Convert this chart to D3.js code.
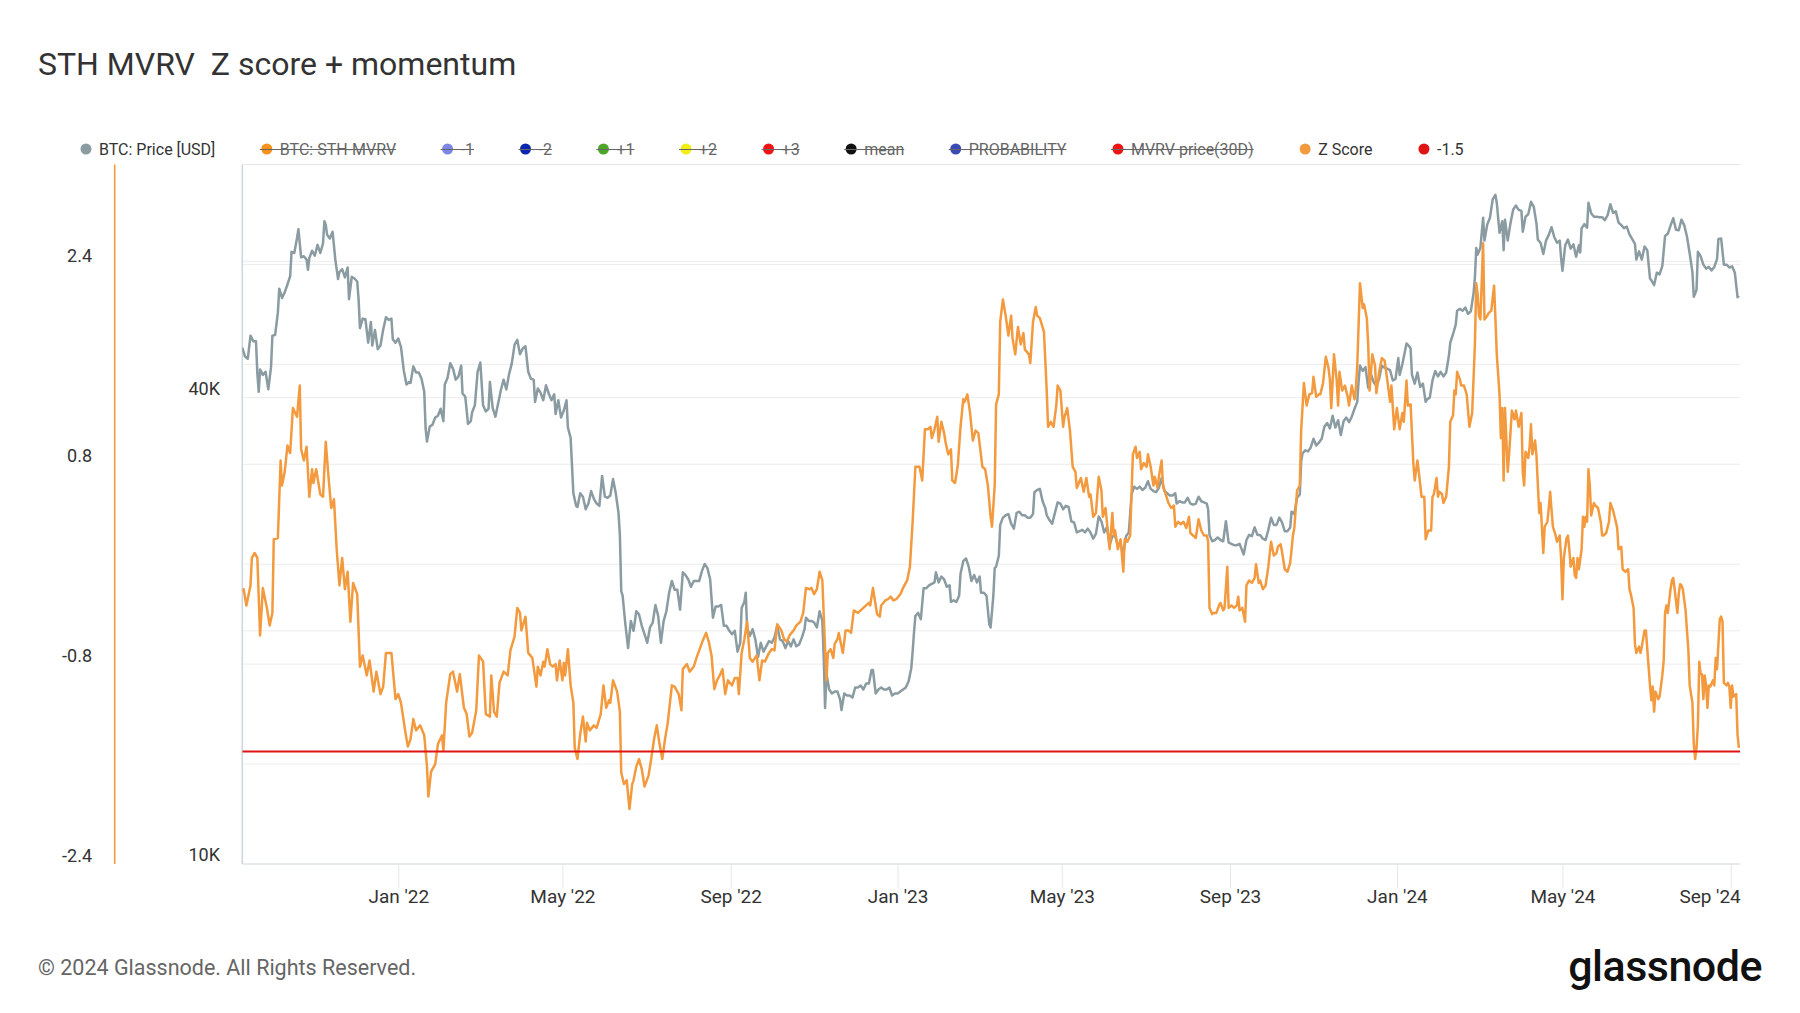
<!DOCTYPE html>
<html><head><meta charset="utf-8">
<script src="https://cdn.jsdelivr.net/npm/d3@7"></script>
<style>
html,body{margin:0;padding:0;background:#fff;}
svg{display:block;font-family:Roboto,"Noto Sans",sans-serif;}
</style></head><body>
<svg id="chart" width="1800" height="1013"></svg>
<script>
const chartTitle = "STH MVRV\u00a0 Z score + momentum";
const footerText = "\u00a9 2024 Glassnode. All Rights Reserved.";
const logoText = "glassnode";

const legendNames = ["BTC: Price [USD]","BTC: STH-MVRV","-1","-2","+1","+2","+3","mean","PROBABILITY","MVRV price(30D)","Z Score","-1.5"];
const legendColors = ["#8a9ba1","#f7931a","#7c86e6","#0b26b0","#4ca526","#f2ee12","#ee1414","#111111","#3949b5","#ee1414","#f39a3e","#e01414"];
const legendVisible = [true,false,false,false,false,false,false,false,false,false,true,true];

const xDomain = ["2021-09-09","2024-09-08"];
const xTickDates = ["2022-01-01","2022-05-01","2022-09-01","2023-01-01","2023-05-01","2023-09-01","2024-01-01","2024-05-01","2024-09-01"];
const xTickLabels = ["Jan '22","May '22","Sep '22","Jan '23","May '23","Sep '23","Jan '24","May '24","Sep '24"];

const zDomain = [-2.4, 3.2];
const zGridValues = [2.4, 1.6, 0.8, 0, -0.8, -1.6];
const zLabelValues = [2.4, 0.8, -0.8, -2.4];
const priceDomainK = [10, 80];
const priceGridValuesK = [20, 40, 60];
const priceLabelValuesK = [40, 10];
const priceLabelText = ["40K","10K"];
const thresholdValue = -1.5;

// BTC price, USD thousands
const priceK = [
["2021-09-09",46.4],["2021-09-11",45.2],["2021-09-13",44.9],["2021-09-15",48.1],["2021-09-17",47.3],["2021-09-19",47.3],["2021-09-20",43.0],["2021-09-21",40.7],["2021-09-22",43.5],["2021-09-24",42.8],["2021-09-26",43.2],["2021-09-28",41.0],["2021-09-30",43.8],
["2021-10-01",48.1],["2021-10-03",48.2],["2021-10-05",51.5],["2021-10-06",55.3],["2021-10-08",53.8],["2021-10-10",54.7],["2021-10-12",56.0],["2021-10-14",57.4],["2021-10-15",61.7],["2021-10-17",61.5],["2021-10-19",64.3],["2021-10-20",66.0],["2021-10-22",60.7],["2021-10-24",60.9],["2021-10-26",60.3],["2021-10-27",58.5],["2021-10-28",60.6],["2021-10-30",61.9],
["2021-11-01",61.0],["2021-11-03",63.0],["2021-11-05",61.5],["2021-11-07",63.3],["2021-11-08",67.6],["2021-11-09",66.9],["2021-11-10",64.9],["2021-11-12",64.2],["2021-11-14",65.5],["2021-11-16",60.3],["2021-11-18",56.9],["2021-11-19",58.1],["2021-11-21",58.6],["2021-11-23",57.2],["2021-11-25",58.9],["2021-11-26",53.6],["2021-11-28",57.3],["2021-11-30",57.0],
["2021-12-02",56.5],["2021-12-03",53.6],["2021-12-04",49.2],["2021-12-06",50.6],["2021-12-08",50.5],["2021-12-10",47.1],["2021-12-12",50.1],["2021-12-13",46.7],["2021-12-15",48.9],["2021-12-17",46.2],["2021-12-19",46.7],["2021-12-21",49.0],["2021-12-23",50.8],["2021-12-25",50.4],["2021-12-27",50.6],["2021-12-28",47.6],["2021-12-30",47.1],
["2022-01-01",47.7],["2022-01-03",46.5],["2022-01-05",43.4],["2022-01-07",41.6],["2022-01-09",41.9],["2022-01-10",41.8],["2022-01-12",43.9],["2022-01-14",43.1],["2022-01-16",43.1],["2022-01-18",42.3],["2022-01-20",40.7],["2022-01-21",36.5],["2022-01-22",35.1],["2022-01-24",36.7],["2022-01-26",36.9],["2022-01-28",37.7],["2022-01-30",37.9],
["2022-02-01",38.7],["2022-02-03",37.3],["2022-02-04",41.6],["2022-02-06",42.4],["2022-02-08",44.3],["2022-02-10",43.6],["2022-02-12",42.2],["2022-02-14",42.6],["2022-02-16",44.0],["2022-02-17",40.5],["2022-02-19",40.1],["2022-02-21",37.0],["2022-02-23",37.3],["2022-02-24",38.3],["2022-02-26",39.1],["2022-02-28",43.2],
["2022-03-02",44.4],["2022-03-04",39.1],["2022-03-06",38.4],["2022-03-08",38.7],["2022-03-09",41.9],["2022-03-11",38.8],["2022-03-13",37.8],["2022-03-15",39.3],["2022-03-17",40.9],["2022-03-19",42.2],["2022-03-21",41.0],["2022-03-23",42.9],["2022-03-25",44.3],["2022-03-27",46.8],["2022-03-29",47.5],["2022-03-31",45.5],
["2022-04-02",46.3],["2022-04-04",46.6],["2022-04-06",43.2],["2022-04-08",42.3],["2022-04-10",42.2],["2022-04-11",39.5],["2022-04-13",41.1],["2022-04-15",40.6],["2022-04-17",39.7],["2022-04-19",41.5],["2022-04-21",40.5],["2022-04-23",39.7],["2022-04-25",40.4],["2022-04-26",38.1],["2022-04-28",39.7],["2022-04-30",37.7],
["2022-05-02",38.5],["2022-05-04",39.7],["2022-05-05",36.6],["2022-05-07",35.5],["2022-05-09",30.1],["2022-05-11",29.0],["2022-05-12",28.9],["2022-05-14",30.1],["2022-05-16",29.8],["2022-05-18",28.7],["2022-05-20",29.2],["2022-05-22",30.3],["2022-05-24",29.6],["2022-05-26",29.2],["2022-05-28",29.0],["2022-05-30",31.7],
["2022-06-01",29.8],["2022-06-03",29.7],["2022-06-05",29.9],["2022-06-07",31.4],["2022-06-09",30.1],["2022-06-11",28.4],["2022-06-12",26.6],["2022-06-13",22.5],["2022-06-14",22.2],["2022-06-16",20.4],["2022-06-18",19.0],["2022-06-20",20.6],["2022-06-22",20.0],["2022-06-24",21.2],["2022-06-26",21.0],["2022-06-28",20.3],["2022-06-30",19.8],
["2022-07-02",19.3],["2022-07-04",20.2],["2022-07-06",20.5],["2022-07-08",21.6],["2022-07-10",20.9],["2022-07-12",19.3],["2022-07-14",20.6],["2022-07-16",21.2],["2022-07-18",22.4],["2022-07-20",23.2],["2022-07-22",22.6],["2022-07-24",22.6],["2022-07-26",21.3],["2022-07-28",23.8],["2022-07-30",23.6],
["2022-08-01",23.3],["2022-08-03",22.8],["2022-08-05",23.2],["2022-08-07",23.2],["2022-08-09",23.2],["2022-08-11",23.9],["2022-08-13",24.4],["2022-08-15",24.1],["2022-08-17",23.3],["2022-08-19",20.8],["2022-08-21",21.5],["2022-08-23",21.5],["2022-08-25",21.6],["2022-08-27",20.3],["2022-08-29",20.3],["2022-08-31",20.0],
["2022-09-02",19.8],["2022-09-04",20.0],["2022-09-06",18.8],["2022-09-08",19.3],["2022-09-09",21.4],["2022-09-11",21.8],["2022-09-12",22.4],["2022-09-13",20.2],["2022-09-15",19.7],["2022-09-17",20.1],["2022-09-19",19.5],["2022-09-21",18.5],["2022-09-23",19.3],["2022-09-25",18.8],["2022-09-27",19.1],["2022-09-29",19.4],
["2022-10-01",19.3],["2022-10-03",19.6],["2022-10-05",20.3],["2022-10-07",19.5],["2022-10-09",19.4],["2022-10-11",19.0],["2022-10-13",19.4],["2022-10-15",19.1],["2022-10-17",19.5],["2022-10-19",19.1],["2022-10-21",19.2],["2022-10-23",19.6],["2022-10-25",20.1],["2022-10-26",20.8],["2022-10-28",20.6],["2022-10-30",20.6],
["2022-11-01",20.5],["2022-11-03",20.2],["2022-11-05",21.2],["2022-11-07",20.6],["2022-11-08",18.5],["2022-11-09",15.9],["2022-11-10",17.6],["2022-11-12",16.8],["2022-11-14",16.6],["2022-11-16",16.7],["2022-11-18",16.7],["2022-11-20",16.3],["2022-11-21",15.8],["2022-11-23",16.6],["2022-11-25",16.5],["2022-11-27",16.5],["2022-11-29",16.4],
["2022-12-01",16.9],["2022-12-03",16.9],["2022-12-05",17.0],["2022-12-07",16.8],["2022-12-09",17.1],["2022-12-11",17.1],["2022-12-13",17.8],["2022-12-14",17.8],["2022-12-16",16.6],["2022-12-18",16.8],["2022-12-20",16.9],["2022-12-22",16.8],["2022-12-24",16.8],["2022-12-26",16.9],["2022-12-28",16.5],["2022-12-30",16.6],
["2023-01-01",16.6],["2023-01-03",16.7],["2023-01-05",16.8],["2023-01-07",16.9],["2023-01-09",17.2],["2023-01-11",17.9],["2023-01-12",18.8],["2023-01-13",19.9],["2023-01-14",20.9],["2023-01-16",21.1],["2023-01-18",20.7],["2023-01-20",22.7],["2023-01-22",22.7],["2023-01-24",22.9],["2023-01-26",23.0],["2023-01-28",23.1],["2023-01-29",23.8],["2023-01-31",23.1],
["2023-02-02",23.5],["2023-02-04",23.3],["2023-02-06",22.8],["2023-02-08",22.9],["2023-02-09",21.8],["2023-02-11",21.9],["2023-02-13",21.8],["2023-02-15",22.2],["2023-02-16",23.7],["2023-02-18",24.6],["2023-02-20",24.8],["2023-02-22",24.2],["2023-02-24",23.2],["2023-02-26",23.6],["2023-02-28",23.1],
["2023-03-02",23.5],["2023-03-03",22.4],["2023-03-05",22.4],["2023-03-07",22.2],["2023-03-09",20.4],["2023-03-10",20.2],["2023-03-12",22.2],["2023-03-13",24.1],["2023-03-14",24.2],["2023-03-16",25.0],["2023-03-17",27.4],["2023-03-19",28.0],["2023-03-21",28.2],["2023-03-23",28.3],["2023-03-25",27.5],["2023-03-27",27.1],["2023-03-29",28.4],["2023-03-31",28.5],
["2023-04-02",28.2],["2023-04-04",28.2],["2023-04-06",28.0],["2023-04-08",28.0],["2023-04-10",28.3],["2023-04-11",30.2],["2023-04-13",30.4],["2023-04-15",30.5],["2023-04-17",29.4],["2023-04-19",28.8],["2023-04-20",28.2],["2023-04-22",27.8],["2023-04-24",27.5],["2023-04-26",28.4],["2023-04-28",29.3],["2023-04-30",29.2],
["2023-05-02",28.7],["2023-05-04",29.0],["2023-05-06",28.9],["2023-05-08",27.7],["2023-05-10",27.6],["2023-05-12",26.8],["2023-05-14",26.9],["2023-05-16",27.0],["2023-05-18",26.8],["2023-05-20",27.1],["2023-05-22",26.8],["2023-05-24",26.3],["2023-05-26",26.7],["2023-05-28",28.1],["2023-05-30",27.7],
["2023-06-01",26.8],["2023-06-03",27.2],["2023-06-05",25.8],["2023-06-07",26.5],["2023-06-09",26.5],["2023-06-11",25.8],["2023-06-13",25.9],["2023-06-15",25.1],["2023-06-17",26.5],["2023-06-19",26.8],["2023-06-20",28.3],["2023-06-21",30.0],["2023-06-23",30.7],["2023-06-25",30.5],["2023-06-27",30.7],["2023-06-29",30.4],
["2023-07-01",30.6],["2023-07-03",31.2],["2023-07-05",30.5],["2023-07-07",30.3],["2023-07-09",30.2],["2023-07-11",30.6],["2023-07-13",31.5],["2023-07-15",30.3],["2023-07-17",30.1],["2023-07-19",29.9],["2023-07-21",29.9],["2023-07-23",30.1],["2023-07-24",29.2],["2023-07-26",29.4],["2023-07-28",29.3],["2023-07-30",29.3],
["2023-08-01",29.7],["2023-08-03",29.2],["2023-08-05",29.1],["2023-08-07",29.2],["2023-08-09",29.8],["2023-08-11",29.4],["2023-08-13",29.3],["2023-08-15",29.2],["2023-08-16",28.7],["2023-08-17",26.6],["2023-08-19",26.1],["2023-08-21",26.2],["2023-08-23",26.4],["2023-08-25",26.2],["2023-08-27",26.1],["2023-08-29",27.7],["2023-08-31",26.0],
["2023-09-02",25.9],["2023-09-04",25.8],["2023-09-06",25.8],["2023-09-08",25.9],["2023-09-11",25.1],["2023-09-13",26.2],["2023-09-15",26.6],["2023-09-17",26.5],["2023-09-19",27.2],["2023-09-21",26.6],["2023-09-23",26.6],["2023-09-25",26.3],["2023-09-27",26.2],["2023-09-29",27.0],
["2023-10-01",28.0],["2023-10-03",27.4],["2023-10-05",27.4],["2023-10-07",28.0],["2023-10-09",27.6],["2023-10-11",26.9],["2023-10-13",26.9],["2023-10-15",27.2],["2023-10-16",28.5],["2023-10-18",28.3],["2023-10-20",29.7],["2023-10-22",30.0],["2023-10-23",33.1],["2023-10-24",33.9],["2023-10-26",34.2],["2023-10-28",34.1],["2023-10-30",34.5],
["2023-11-01",35.4],["2023-11-03",34.7],["2023-11-05",35.0],["2023-11-07",35.4],["2023-11-09",36.7],["2023-11-11",37.1],["2023-11-13",36.5],["2023-11-15",37.9],["2023-11-17",36.6],["2023-11-19",37.4],["2023-11-21",35.8],["2023-11-23",37.3],["2023-11-25",37.7],["2023-11-27",37.2],["2023-11-29",37.8],
["2023-12-01",38.7],["2023-12-03",39.5],["2023-12-04",42.0],["2023-12-05",44.0],["2023-12-07",43.3],["2023-12-09",43.8],["2023-12-11",41.2],["2023-12-13",42.9],["2023-12-15",41.9],["2023-12-17",41.4],["2023-12-19",42.3],["2023-12-21",44.0],["2023-12-23",43.7],["2023-12-25",43.6],["2023-12-27",43.4],["2023-12-29",42.1],["2023-12-31",42.3],
["2024-01-02",45.0],["2024-01-03",42.8],["2024-01-05",44.2],["2024-01-08",47.0],["2024-01-10",46.6],["2024-01-11",46.3],["2024-01-12",42.8],["2024-01-14",41.7],["2024-01-16",43.1],["2024-01-18",41.3],["2024-01-20",41.7],["2024-01-22",39.5],["2024-01-23",39.8],["2024-01-25",40.0],["2024-01-27",42.1],["2024-01-29",43.3],["2024-01-31",42.6],
["2024-02-02",43.2],["2024-02-04",42.6],["2024-02-06",43.1],["2024-02-08",45.3],["2024-02-09",47.1],["2024-02-11",48.3],["2024-02-13",49.7],["2024-02-14",51.8],["2024-02-16",52.1],["2024-02-18",51.8],["2024-02-20",52.3],["2024-02-22",51.3],["2024-02-24",51.7],["2024-02-26",54.5],["2024-02-27",57.1],["2024-02-28",62.4],["2024-02-29",61.2],
["2024-03-02",62.4],["2024-03-04",68.3],["2024-03-05",63.8],["2024-03-07",66.9],["2024-03-09",68.3],["2024-03-11",72.1],["2024-03-13",73.1],["2024-03-14",71.4],["2024-03-16",65.3],["2024-03-18",67.6],["2024-03-19",62.0],["2024-03-20",67.9],["2024-03-22",63.8],["2024-03-24",67.2],["2024-03-26",70.0],["2024-03-28",70.8],["2024-03-30",69.9],
["2024-04-01",69.7],["2024-04-02",65.5],["2024-04-04",68.5],["2024-04-06",69.0],["2024-04-08",71.6],["2024-04-10",70.6],["2024-04-12",67.1],["2024-04-13",64.0],["2024-04-15",63.4],["2024-04-17",61.3],["2024-04-19",63.8],["2024-04-21",64.9],["2024-04-23",66.4],["2024-04-25",64.5],["2024-04-27",63.4],["2024-04-29",63.8],["2024-04-30",60.6],
["2024-05-01",58.3],["2024-05-03",62.9],["2024-05-05",64.0],["2024-05-07",62.3],["2024-05-09",63.1],["2024-05-11",60.8],["2024-05-13",62.9],["2024-05-14",61.6],["2024-05-15",66.2],["2024-05-17",67.0],["2024-05-19",66.3],["2024-05-20",71.4],["2024-05-22",69.2],["2024-05-24",68.5],["2024-05-26",68.5],["2024-05-28",68.4],["2024-05-30",68.4],
["2024-06-01",67.8],["2024-06-03",68.8],["2024-06-05",71.1],["2024-06-07",69.3],["2024-06-09",69.6],["2024-06-11",67.3],["2024-06-13",66.8],["2024-06-15",66.2],["2024-06-17",66.5],["2024-06-19",65.0],["2024-06-21",64.1],["2024-06-23",63.2],["2024-06-24",60.3],["2024-06-26",61.8],["2024-06-28",60.3],["2024-06-30",62.7],
["2024-07-02",62.0],["2024-07-04",57.0],["2024-07-05",56.7],["2024-07-07",55.9],["2024-07-09",58.0],["2024-07-11",57.7],["2024-07-13",59.2],["2024-07-15",64.7],["2024-07-17",65.1],["2024-07-19",66.7],["2024-07-21",68.2],["2024-07-23",65.9],["2024-07-25",65.8],["2024-07-27",67.9],["2024-07-29",66.8],["2024-07-31",64.6],
["2024-08-02",61.4],["2024-08-04",58.1],["2024-08-05",54.0],["2024-08-07",55.1],["2024-08-08",61.7],["2024-08-10",60.9],["2024-08-12",59.4],["2024-08-14",58.7],["2024-08-16",59.0],["2024-08-18",58.4],["2024-08-20",59.0],["2024-08-22",60.4],["2024-08-23",64.1],["2024-08-25",64.2],["2024-08-27",59.4],["2024-08-29",59.4],["2024-08-31",58.9],
["2024-09-02",59.1],["2024-09-04",58.0],["2024-09-06",53.9],["2024-09-07",54.2]
];

// STH MVRV Z score
const zScore = [
["2021-09-09",-0.22],["2021-09-10",-0.20],["2021-09-12",-0.33],["2021-09-15",-0.17],["2021-09-16",0.05],["2021-09-18",0.09],["2021-09-20",0.05],["2021-09-22",-0.57],["2021-09-24",-0.19],["2021-09-27",-0.35],["2021-09-29",-0.49],["2021-10-01",-0.39],["2021-10-02",0.20],["2021-10-05",0.21],["2021-10-07",0.83],["2021-10-08",0.63],["2021-10-10",0.74],["2021-10-12",0.95],["2021-10-14",0.89],["2021-10-16",1.25],["2021-10-19",1.18],["2021-10-21",1.43],["2021-10-22",0.92],["2021-10-24",0.83],["2021-10-26",0.94],["2021-10-28",0.54],["2021-10-30",0.76],["2021-10-31",0.65],
["2021-11-02",0.76],["2021-11-05",0.56],["2021-11-07",0.54],["2021-11-09",0.98],["2021-11-11",0.70],["2021-11-13",0.45],["2021-11-15",0.52],["2021-11-17",0.12],["2021-11-19",-0.17],["2021-11-21",0.05],["2021-11-23",-0.20],["2021-11-25",-0.06],["2021-11-27",-0.46],["2021-11-29",-0.15],["2021-12-02",-0.24],["2021-12-04",-0.82],["2021-12-06",-0.73],["2021-12-09",-0.89],["2021-12-11",-0.77],["2021-12-14",-1.02],["2021-12-16",-0.86],["2021-12-19",-1.04],["2021-12-21",-0.98],["2021-12-23",-0.71],["2021-12-27",-0.71],["2021-12-30",-1.08],
["2022-01-01",-1.04],["2022-01-03",-1.11],["2022-01-06",-1.33],["2022-01-08",-1.46],["2022-01-10",-1.40],["2022-01-12",-1.24],["2022-01-14",-1.33],["2022-01-17",-1.29],["2022-01-20",-1.37],["2022-01-22",-1.62],["2022-01-23",-1.86],["2022-01-25",-1.66],["2022-01-28",-1.60],["2022-01-30",-1.44],["2022-02-02",-1.37],["2022-02-03",-1.49],["2022-02-05",-1.11],["2022-02-08",-0.88],["2022-02-10",-0.86],["2022-02-13",-1.02],["2022-02-15",-0.88],["2022-02-18",-1.15],["2022-02-20",-1.20],["2022-02-22",-1.38],["2022-02-24",-1.35],["2022-02-27",-1.17],
["2022-03-01",-0.73],["2022-03-04",-0.78],["2022-03-06",-1.20],["2022-03-09",-1.22],["2022-03-10",-0.89],["2022-03-12",-1.18],["2022-03-14",-1.22],["2022-03-16",-0.95],["2022-03-19",-0.86],["2022-03-22",-0.89],["2022-03-24",-0.69],["2022-03-27",-0.58],["2022-03-29",-0.35],["2022-03-31",-0.39],["2022-04-01",-0.53],["2022-04-04",-0.42],["2022-04-06",-0.71],["2022-04-09",-0.75],["2022-04-12",-0.98],
["2022-04-13",-0.82],["2022-04-15",-0.89],["2022-04-17",-0.78],["2022-04-18",-0.82],["2022-04-20",-0.68],["2022-04-22",-0.80],["2022-04-24",-0.82],["2022-04-26",-0.80],["2022-04-27",-0.93],["2022-04-29",-0.77],["2022-05-01",-0.93],["2022-05-02",-0.79],["2022-05-03",-0.89],["2022-05-05",-0.68],["2022-05-07",-0.97],["2022-05-09",-1.11],["2022-05-10",-1.47],["2022-05-12",-1.56],["2022-05-14",-1.36],["2022-05-16",-1.22],["2022-05-18",-1.42],["2022-05-19",-1.27],["2022-05-21",-1.33],["2022-05-24",-1.29],["2022-05-26",-1.31],["2022-05-29",-1.20],["2022-05-31",-0.97],
["2022-06-02",-1.15],["2022-06-04",-1.09],["2022-06-05",-1.11],["2022-06-07",-0.93],["2022-06-10",-1.02],["2022-06-12",-1.18],["2022-06-13",-1.67],["2022-06-15",-1.76],["2022-06-17",-1.73],["2022-06-19",-1.96],["2022-06-21",-1.76],["2022-06-22",-1.73],["2022-06-24",-1.62],["2022-06-26",-1.56],["2022-06-28",-1.64],["2022-06-30",-1.78],["2022-07-03",-1.69],["2022-07-05",-1.55],["2022-07-07",-1.40],["2022-07-09",-1.29],["2022-07-11",-1.44],["2022-07-13",-1.56],["2022-07-15",-1.40],["2022-07-17",-1.27],["2022-07-20",-0.97],["2022-07-22",-0.98],["2022-07-25",-1.04],["2022-07-27",-1.17],["2022-07-28",-0.84],["2022-07-31",-0.80],
["2022-08-02",-0.86],["2022-08-05",-0.82],["2022-08-07",-0.75],["2022-08-10",-0.66],["2022-08-12",-0.60],["2022-08-14",-0.55],["2022-08-16",-0.62],["2022-08-18",-0.73],["2022-08-20",-1.00],["2022-08-22",-0.93],["2022-08-24",-0.89],["2022-08-26",-0.84],["2022-08-28",-1.04],["2022-08-30",-0.93],["2022-09-02",-0.97],["2022-09-04",-0.91],["2022-09-06",-0.91],["2022-09-07",-1.04],["2022-09-09",-0.71],["2022-09-11",-0.60],["2022-09-13",-0.46],["2022-09-15",-0.75],["2022-09-17",-0.78],["2022-09-20",-0.73],["2022-09-22",-0.93],["2022-09-24",-0.77],["2022-09-26",-0.78],["2022-09-29",-0.71],
["2022-10-01",-0.68],["2022-10-03",-0.69],["2022-10-05",-0.48],["2022-10-08",-0.53],["2022-10-10",-0.60],["2022-10-12",-0.62],["2022-10-14",-0.57],["2022-10-17",-0.53],["2022-10-19",-0.49],["2022-10-22",-0.46],["2022-10-24",-0.39],["2022-10-26",-0.19],["2022-10-29",-0.20],["2022-10-30",-0.19],["2022-11-01",-0.24],["2022-11-03",-0.20],["2022-11-05",-0.06],["2022-11-07",-0.13],["2022-11-09",-0.68],["2022-11-10",-0.93],["2022-11-11",-0.71],
["2022-11-13",-0.68],["2022-11-15",-0.75],["2022-11-16",-0.64],["2022-11-18",-0.60],["2022-11-19",-0.55],["2022-11-22",-0.71],["2022-11-24",-0.53],["2022-11-26",-0.53],["2022-11-28",-0.55],["2022-11-30",-0.37],["2022-12-03",-0.39],["2022-12-05",-0.37],["2022-12-07",-0.35],["2022-12-09",-0.33],["2022-12-11",-0.31],["2022-12-12",-0.33],["2022-12-14",-0.19],["2022-12-16",-0.33],["2022-12-17",-0.40],["2022-12-19",-0.42],["2022-12-20",-0.33],["2022-12-23",-0.29],["2022-12-25",-0.28],["2022-12-27",-0.26],["2022-12-29",-0.29],["2022-12-31",-0.28],
["2023-01-03",-0.24],["2023-01-05",-0.19],["2023-01-08",-0.13],["2023-01-10",-0.02],["2023-01-12",0.34],["2023-01-14",0.78],["2023-01-15",0.78],["2023-01-17",0.78],["2023-01-19",0.67],["2023-01-21",1.08],["2023-01-23",1.08],["2023-01-25",1.10],["2023-01-26",1.01],["2023-01-28",1.08],["2023-01-30",1.18],["2023-01-31",0.98],["2023-02-02",1.14],["2023-02-04",1.05],["2023-02-05",0.98],["2023-02-07",0.88],["2023-02-09",0.92],["2023-02-10",0.67],["2023-02-12",0.65],["2023-02-14",0.79],["2023-02-16",1.10],["2023-02-18",1.32],["2023-02-19",1.30],["2023-02-21",1.36],["2023-02-23",1.21],["2023-02-25",0.99],["2023-02-27",1.07],
["2023-03-01",1.05],["2023-03-04",0.78],["2023-03-06",0.76],["2023-03-08",0.63],["2023-03-10",0.38],["2023-03-11",0.30],["2023-03-13",0.63],["2023-03-14",1.28],["2023-03-16",1.36],["2023-03-17",1.94],["2023-03-19",2.12],["2023-03-21",1.99],["2023-03-23",1.83],["2023-03-25",1.99],["2023-03-26",1.81],["2023-03-28",1.68],["2023-03-30",1.90],["2023-04-01",1.76],["2023-04-03",1.85],["2023-04-04",1.72],["2023-04-07",1.68],["2023-04-08",1.61],["2023-04-10",1.94],["2023-04-12",2.06],["2023-04-13",1.99],["2023-04-15",1.97],["2023-04-18",1.86],["2023-04-20",1.39],["2023-04-21",1.10],["2023-04-23",1.14],["2023-04-25",1.10],["2023-04-27",1.27],["2023-04-28",1.43],["2023-04-30",1.39],
["2023-05-02",1.10],["2023-05-03",1.18],["2023-05-05",1.25],["2023-05-07",1.07],["2023-05-09",0.78],["2023-05-11",0.74],["2023-05-12",0.61],["2023-05-15",0.69],["2023-05-17",0.58],["2023-05-19",0.69],["2023-05-21",0.54],["2023-05-22",0.56],["2023-05-24",0.38],["2023-05-26",0.41],["2023-05-28",0.70],["2023-05-30",0.59],["2023-05-31",0.38],["2023-06-02",0.45],["2023-06-04",0.23],["2023-06-05",0.12],["2023-06-07",0.41],["2023-06-08",0.23],["2023-06-09",0.27],["2023-06-11",0.12],["2023-06-13",0.20],["2023-06-15",-0.06],["2023-06-16",0.20],["2023-06-18",0.18],
["2023-06-20",0.23],["2023-06-22",0.88],["2023-06-24",0.94],["2023-06-25",0.85],["2023-06-27",0.90],["2023-06-28",0.76],["2023-06-30",0.81],["2023-07-02",0.78],["2023-07-03",0.88],["2023-07-05",0.78],["2023-07-07",0.63],["2023-07-08",0.70],["2023-07-10",0.61],["2023-07-11",0.70],["2023-07-13",0.83],["2023-07-14",0.63],["2023-07-16",0.56],["2023-07-18",0.49],["2023-07-20",0.45],["2023-07-22",0.47],["2023-07-23",0.30],["2023-07-25",0.34],["2023-07-27",0.32],["2023-07-29",0.34],["2023-07-31",0.29],
["2023-08-02",0.38],["2023-08-03",0.25],["2023-08-05",0.23],["2023-08-07",0.21],["2023-08-09",0.36],["2023-08-11",0.27],["2023-08-13",0.23],["2023-08-15",0.23],["2023-08-16",0.18],["2023-08-17",-0.35],["2023-08-19",-0.40],["2023-08-20",-0.39],["2023-08-22",-0.39],["2023-08-24",-0.33],["2023-08-25",-0.31],["2023-08-27",-0.37],["2023-08-28",-0.35],["2023-08-30",-0.02],["2023-08-31",-0.35],
["2023-09-02",-0.33],["2023-09-04",-0.35],["2023-09-06",-0.33],["2023-09-07",-0.26],["2023-09-08",-0.37],["2023-09-10",-0.35],["2023-09-12",-0.46],["2023-09-13",-0.17],["2023-09-15",-0.13],["2023-09-17",-0.15],["2023-09-19",-0.11],["2023-09-20",0.00],["2023-09-22",-0.15],["2023-09-23",-0.13],["2023-09-25",-0.20],["2023-09-27",-0.17],["2023-09-29",-0.02],
["2023-10-01",0.18],["2023-10-03",0.07],["2023-10-05",0.09],["2023-10-06",0.14],["2023-10-08",0.16],["2023-10-09",0.10],["2023-10-11",-0.04],["2023-10-13",-0.06],["2023-10-15",0.01],["2023-10-17",0.23],["2023-10-18",0.29],["2023-10-20",0.59],["2023-10-22",0.63],["2023-10-23",1.07],["2023-10-25",1.45],["2023-10-27",1.27],["2023-10-29",1.36],["2023-10-31",1.37],
["2023-11-01",1.50],["2023-11-03",1.34],["2023-11-05",1.36],["2023-11-06",1.36],["2023-11-08",1.45],["2023-11-10",1.66],["2023-11-12",1.57],["2023-11-13",1.48],["2023-11-14",1.25],["2023-11-16",1.68],["2023-11-18",1.47],["2023-11-19",1.27],["2023-11-20",1.54],["2023-11-22",1.39],["2023-11-24",1.43],["2023-11-26",1.34],["2023-11-27",1.27],["2023-11-29",1.43],
["2023-12-01",1.32],["2023-12-02",1.41],["2023-12-03",1.59],["2023-12-05",2.25],["2023-12-07",2.05],["2023-12-08",2.08],["2023-12-10",1.97],["2023-12-11",1.76],["2023-12-12",1.39],["2023-12-14",1.68],["2023-12-16",1.59],["2023-12-17",1.37],["2023-12-19",1.54],["2023-12-21",1.65],["2023-12-23",1.63],["2023-12-25",1.47],["2023-12-27",1.30],["2023-12-28",1.43],["2023-12-30",1.08],
["2024-01-01",1.25],["2024-01-03",1.08],["2024-01-05",1.21],["2024-01-06",1.14],["2024-01-08",1.47],["2024-01-09",1.27],["2024-01-11",1.28],["2024-01-13",0.81],["2024-01-14",0.67],["2024-01-16",0.83],["2024-01-17",0.74],["2024-01-19",0.54],["2024-01-21",0.54],["2024-01-22",0.20],["2024-01-24",0.27],["2024-01-26",0.27],
["2024-01-27",0.54],["2024-01-28",0.56],["2024-01-30",0.69],["2024-01-31",0.54],["2024-02-01",0.58],["2024-02-03",0.56],["2024-02-04",0.49],["2024-02-06",0.54],["2024-02-08",0.78],["2024-02-09",1.14],["2024-02-11",1.19],["2024-02-12",1.39],["2024-02-13",1.36],["2024-02-14",1.54],["2024-02-16",1.48],["2024-02-17",1.43],["2024-02-19",1.43],["2024-02-21",1.36],["2024-02-22",1.23],["2024-02-23",1.10],["2024-02-25",1.21],["2024-02-27",1.76],["2024-02-28",2.25],["2024-02-29",2.16],
["2024-03-01",1.99],["2024-03-02",1.96],["2024-03-03",2.26],["2024-03-04",2.57],["2024-03-05",1.96],["2024-03-07",1.99],["2024-03-08",2.01],["2024-03-10",2.03],["2024-03-12",2.23],["2024-03-13",1.97],["2024-03-14",1.68],["2024-03-16",1.36],["2024-03-17",1.01],["2024-03-18",1.25],["2024-03-19",0.67],["2024-03-20",1.25],["2024-03-22",0.74],["2024-03-23",0.88],["2024-03-25",1.23],["2024-03-27",1.16],["2024-03-28",1.23],["2024-03-30",1.10],
["2024-04-01",1.21],["2024-04-02",0.74],["2024-04-03",0.63],["2024-04-04",0.90],["2024-04-06",0.85],["2024-04-07",0.94],["2024-04-08",1.12],["2024-04-09",0.88],["2024-04-11",0.99],["2024-04-12",0.87],["2024-04-14",0.41],["2024-04-15",0.49],["2024-04-17",0.09],["2024-04-18",0.30],["2024-04-20",0.34],["2024-04-21",0.45],["2024-04-22",0.58],["2024-04-24",0.30],["2024-04-26",0.23],["2024-04-27",0.18],["2024-04-29",0.23],["2024-04-30",0.05],
["2024-05-01",-0.28],["2024-05-02",0.05],["2024-05-04",0.21],["2024-05-05",0.23],["2024-05-06",0.12],["2024-05-07",-0.02],["2024-05-09",0.05],["2024-05-10",-0.09],["2024-05-11",-0.11],["2024-05-12",0.05],["2024-05-13",-0.04],["2024-05-15",0.12],["2024-05-16",0.38],["2024-05-17",0.30],["2024-05-18",0.38],["2024-05-19",0.34],["2024-05-20",0.76],["2024-05-21",0.63],["2024-05-22",0.39],["2024-05-24",0.49],["2024-05-25",0.47],["2024-05-27",0.45],["2024-05-29",0.34],["2024-05-30",0.23],["2024-05-31",0.23],
["2024-06-02",0.25],["2024-06-04",0.34],["2024-06-05",0.49],["2024-06-07",0.43],["2024-06-09",0.34],["2024-06-10",0.29],["2024-06-11",0.12],["2024-06-13",0.14],["2024-06-14",-0.04],["2024-06-16",-0.06],["2024-06-18",-0.04],["2024-06-19",-0.20],["2024-06-20",-0.24],["2024-06-22",-0.35],["2024-06-23",-0.64],["2024-06-24",-0.71],["2024-06-26",-0.66],["2024-06-27",-0.71],["2024-06-28",-0.66],["2024-06-30",-0.53],
["2024-07-01",-0.53],["2024-07-02",-0.68],["2024-07-04",-0.97],["2024-07-05",-1.09],["2024-07-06",-0.98],["2024-07-07",-1.18],["2024-07-08",-1.02],["2024-07-10",-1.08],["2024-07-11",-1.06],["2024-07-13",-0.89],["2024-07-14",-0.77],["2024-07-15",-0.39],["2024-07-16",-0.33],["2024-07-17",-0.39],["2024-07-19",-0.20],["2024-07-20",-0.13],["2024-07-21",-0.11],["2024-07-22",-0.20],["2024-07-24",-0.39],["2024-07-25",-0.24],["2024-07-26",-0.16],["2024-07-27",-0.17],["2024-07-28",-0.20],["2024-07-30",-0.37],["2024-07-31",-0.53],
["2024-08-01",-0.68],["2024-08-02",-0.97],["2024-08-04",-1.11],["2024-08-05",-1.44],["2024-08-06",-1.56],["2024-08-07",-1.47],["2024-08-08",-1.29],["2024-08-09",-0.78],["2024-08-10",-0.88],["2024-08-11",-0.88],["2024-08-12",-1.08],["2024-08-13",-0.89],["2024-08-14",-0.97],["2024-08-15",-1.15],["2024-08-16",-0.97],["2024-08-17",-0.98],["2024-08-19",-0.93],["2024-08-20",-0.97],["2024-08-21",-0.75],["2024-08-22",-0.84],["2024-08-24",-0.44],["2024-08-25",-0.42],["2024-08-26",-0.46],["2024-08-27",-0.95],["2024-08-29",-0.97],["2024-08-30",-0.95],["2024-08-31",-0.98],
["2024-09-01",-1.15],["2024-09-02",-0.97],["2024-09-03",-1.06],["2024-09-05",-1.04],["2024-09-06",-1.37],["2024-09-07",-1.47]
];

// ---------- drawing ----------
const plot = {left: 242.3, right: 1740.3, top: 164.5, bottom: 864};
const parse = d3.utcParse("%Y-%m-%d");
const svg = d3.select("#chart");

const x = d3.scaleUtc().domain(xDomain.map(parse)).range([plot.left, plot.right]);
const yPrice = d3.scaleLog().domain(priceDomainK).range([plot.bottom, plot.top]);
const yZ = d3.scaleLinear().domain(zDomain).range([plot.bottom, plot.top]);

// title
svg.append("text").attr("x", 38).attr("y", 75)
  .attr("font-size", 32).attr("fill", "#333").text(chartTitle);

// grid lines
const grid = svg.append("g");
grid.selectAll("line.zg").data(zGridValues).join("line")
  .attr("x1", plot.left).attr("x2", plot.right)
  .attr("y1", d => yZ(d)).attr("y2", d => yZ(d))
  .attr("stroke", "#ececec").attr("stroke-width", 1);
grid.selectAll("line.pg").data(priceGridValuesK).join("line")
  .attr("x1", plot.left).attr("x2", plot.right)
  .attr("y1", d => yPrice(d)).attr("y2", d => yPrice(d))
  .attr("stroke", "#ececec").attr("stroke-width", 1);

// plot frame
svg.append("line").attr("x1", plot.left).attr("x2", plot.right).attr("y1", plot.top).attr("y2", plot.top)
  .attr("stroke", "#e6e6e6").attr("stroke-width", 1);
svg.append("line").attr("x1", plot.left).attr("x2", plot.right).attr("y1", plot.bottom).attr("y2", plot.bottom)
  .attr("stroke", "#dde3e6").attr("stroke-width", 1.5);
svg.append("line").attr("x1", plot.left).attr("x2", plot.left).attr("y1", plot.top).attr("y2", plot.bottom)
  .attr("stroke", "#ccd6da").attr("stroke-width", 1.5);

// x axis
const xAxis = d3.axisBottom(x)
  .tickValues(xTickDates.map(parse))
  .tickFormat((d, i) => xTickLabels[i])
  .tickSize(24).tickPadding(2);
const gx = svg.append("g").attr("transform", `translate(0,${plot.bottom})`).call(xAxis);
gx.select(".domain").remove();
gx.selectAll(".tick line").attr("stroke", "#e6e6e6");
gx.selectAll(".tick text").attr("font-size", 19).attr("fill", "#333").attr("font-family", "Roboto")
  .each(function(d) {
    // keep labels inside the plot width, like the original
    const w = this.getComputedTextLength();
    const px = x(d);
    if (px + w / 2 > plot.right) {
      d3.select(this).attr("text-anchor", "end").attr("x", plot.right - px);
    }
  });

// z axis (left, orange line)
svg.append("line").attr("x1", 114.7).attr("x2", 114.7).attr("y1", plot.top).attr("y2", plot.bottom)
  .attr("stroke", "#f39a3e").attr("stroke-width", 1.6);
const zAxis = d3.axisLeft(yZ).tickValues(zLabelValues).tickFormat(d => d.toFixed(1)).tickSize(0).tickPadding(0);
const gz = svg.append("g").attr("transform", "translate(92,0)").call(zAxis);
gz.select(".domain").remove();
gz.selectAll(".tick text").attr("font-size", 18).attr("fill", "#333").attr("dy", "-0.15em").attr("font-family", "Roboto");

// price axis
const pAxis = d3.axisLeft(yPrice).tickValues(priceLabelValuesK).tickFormat((d, i) => priceLabelText[i]).tickSize(0).tickPadding(0);
const gp = svg.append("g").attr("transform", "translate(220,0)").call(pAxis);
gp.select(".domain").remove();
gp.selectAll(".tick text").attr("font-size", 18).attr("fill", "#333").attr("dy", "-0.17em").attr("font-family", "Roboto");

// clip
svg.append("clipPath").attr("id", "plotclip").append("rect")
  .attr("x", plot.left).attr("y", plot.top).attr("width", plot.right - plot.left).attr("height", plot.bottom - plot.top);
const lines = svg.append("g").attr("clip-path", "url(#plotclip)");

const priceLine = d3.line().x(d => x(parse(d[0]))).y(d => yPrice(d[1]));
const zLine = d3.line().x(d => x(parse(d[0]))).y(d => yZ(d[1]));

lines.append("path").datum(priceK).attr("d", priceLine)
  .attr("fill", "none").attr("stroke", legendColors[0]).attr("stroke-width", 2.5).attr("stroke-linejoin", "round");
lines.append("path").datum(zScore).attr("d", zLine)
  .attr("fill", "none").attr("stroke", legendColors[10]).attr("stroke-width", 2.5).attr("stroke-linejoin", "round");
lines.append("line")
  .attr("x1", x(parse(xDomain[0]))).attr("x2", x(parse(xDomain[1])))
  .attr("y1", yZ(thresholdValue)).attr("y2", yZ(thresholdValue))
  .attr("stroke", legendColors[11]).attr("stroke-width", 2);

// legend
const legendY = 149;
const lg = svg.append("g").attr("font-size", 16);
let cx = 86;
legendNames.forEach((name, i) => {
  const g = lg.append("g");
  g.append("circle").attr("cx", cx).attr("cy", legendY).attr("r", 5.5).attr("fill", legendColors[i]);
  const t = g.append("text").attr("x", cx + 13).attr("y", legendY + 5.6)
    .attr("fill", legendVisible[i] ? "#333" : "#666").text(name);
  const w = t.node().getComputedTextLength();
  if (!legendVisible[i]) {
    g.append("line").attr("x1", cx - 7).attr("x2", cx + 13 + w).attr("y1", legendY + 0.5).attr("y2", legendY + 0.5)
      .attr("stroke", "#666").attr("stroke-width", 1);
  }
  cx = cx + 13 + w + 51.5;
});

// footer
svg.append("text").attr("x", 38).attr("y", 975).attr("font-size", 21.5).attr("fill", "#666").text(footerText);
svg.append("text").attr("x", 1762).attr("y", 981).attr("text-anchor", "end")
  .attr("font-size", 43).attr("font-weight", 500).attr("fill", "#111").attr("letter-spacing", -0.5).text(logoText);
</script>
</body></html>
